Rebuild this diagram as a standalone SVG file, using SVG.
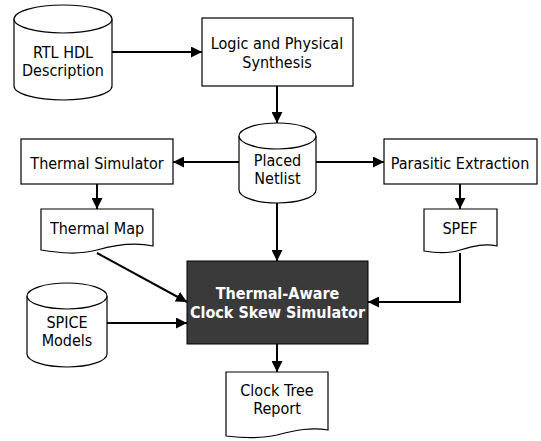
<svg xmlns="http://www.w3.org/2000/svg" width="541" height="441" viewBox="0 0 541 441">
<defs>
<style>
.s{fill:#fff;stroke:#000;stroke-width:1.2}
.t{font-family:"DejaVu Sans Condensed","DejaVu Sans",sans-serif;font-stretch:condensed;font-size:16px;fill:#000;text-anchor:middle}
.b{font-family:"DejaVu Sans Condensed","DejaVu Sans",sans-serif;font-stretch:condensed;font-size:16px;font-weight:bold;fill:#fff;text-anchor:middle}
.c{fill:none;stroke:#000;stroke-width:2}
</style>
<marker id="ah" viewBox="0 0 10 10" refX="10" refY="5" markerWidth="5.5" markerHeight="5.5" orient="auto" markerUnits="strokeWidth"><path d="M0,0 L10,5 L0,10 Z" fill="#000"/></marker>
</defs>
<rect width="541" height="441" fill="#fff"/>
<g id="connectors">
<path class="c" d="M112,52 H202" marker-end="url(#ah)"/>
<path class="c" d="M277,86 V123" marker-end="url(#ah)"/>
<path class="c" d="M239,162 H173" marker-end="url(#ah)"/>
<path class="c" d="M316,162 H384" marker-end="url(#ah)"/>
<path class="c" d="M97,184 V209" marker-end="url(#ah)"/>
<path class="c" d="M460,184 V209" marker-end="url(#ah)"/>
<path class="c" d="M277,203 V261" marker-end="url(#ah)"/>
<path class="c" d="M97,253 L187,302" marker-end="url(#ah)"/>
<path class="c" d="M460,253 V302 H368" marker-end="url(#ah)"/>
<path class="c" d="M107,323 H187" marker-end="url(#ah)"/>
<path class="c" d="M277,344 V372" marker-end="url(#ah)"/>
</g>
<g id="rtl">
<path class="s" d="M14,19 A49,14 0 0 1 112,19 V86 A49,14 0 0 1 14,86 Z"/>
<path class="s" fill="none" d="M14,19 A49,14 0 0 0 112,19"/>
<text class="t" x="63" y="58">RTL HDL</text>
<text class="t" x="63" y="76">Description</text>
</g>
<g id="synthesis">
<rect class="s" x="202" y="18" width="151" height="68"/>
<text class="t" x="277" y="49">Logic and Physical</text>
<text class="t" x="277" y="68">Synthesis</text>
</g>
<g id="netlist">
<path class="s" d="M239,136 A38.5,13 0 0 1 316,136 V190 A38.5,13 0 0 1 239,190 Z"/>
<path class="s" fill="none" d="M239,136 A38.5,13 0 0 0 316,136"/>
<text class="t" x="277.5" y="166">Placed</text>
<text class="t" x="277.5" y="184">Netlist</text>
</g>
<g id="thermalsim">
<rect class="s" x="21" y="139" width="152" height="45"/>
<text class="t" x="97" y="169">Thermal Simulator</text>
</g>
<g id="parasitic">
<rect class="s" x="384" y="139" width="153" height="45"/>
<text class="t" x="460" y="169">Parasitic Extraction</text>
</g>
<g id="thermalmap">
<path class="s" d="M41,209 H153 V246 C135,242 118,244 97,250 C78,255 60,253 41,250 Z"/>
<text class="t" x="97" y="234">Thermal Map</text>
</g>
<g id="spef">
<path class="s" d="M424,209 H497 V246 C485,243 474,246 460,250 C448,254 436,253 424,251 Z"/>
<text class="t" x="460" y="234">SPEF</text>
</g>
<g id="simulator">
<rect x="187" y="261" width="181" height="83" fill="#3a3a3a" stroke="#000" stroke-width="1"/>
<text class="b" x="277.5" y="299">Thermal-Aware</text>
<text class="b" x="277.5" y="318">Clock Skew Simulator</text>
</g>
<g id="spice">
<path class="s" d="M27,296 A40,13 0 0 1 107,296 V354 A40,13 0 0 1 27,354 Z"/>
<path class="s" fill="none" d="M27,296 A40,13 0 0 0 107,296"/>
<text class="t" x="67" y="328">SPICE</text>
<text class="t" x="67" y="346">Models</text>
</g>
<g id="report">
<path class="s" d="M226,372 H328 V430 C312,427 296,430 277,435 C260,439 243,438 226,436 Z"/>
<text class="t" x="277" y="396">Clock Tree</text>
<text class="t" x="277" y="414">Report</text>
</g>
</svg>
